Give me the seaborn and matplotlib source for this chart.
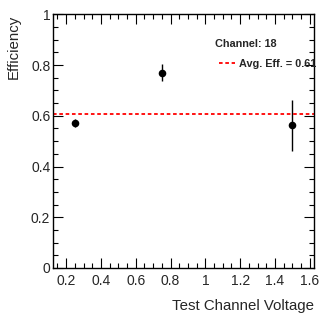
import numpy as np
import matplotlib
matplotlib.use("Agg")
import matplotlib.pyplot as plt
from matplotlib.ticker import MultipleLocator
import seaborn as sns
import pandas as pd

# data
voltage = [0.25, 0.75, 1.5]
efficiency = [0.572, 0.770, 0.562]
eff_err = [0.016, 0.034, 0.100]
avg_eff = 0.606
channel = 18

sns.set_style("ticks")
plt.rcParams['font.family'] = ['Liberation Sans', 'DejaVu Sans']

df = pd.DataFrame({'v': voltage, 'eff': efficiency, 'err': eff_err})

fig = plt.figure(figsize=(3.32, 3.19), dpi=100)
ax = fig.add_axes([0.16, 0.16, 0.786, 0.795])

ax.errorbar(df['v'], df['eff'], yerr=df['err'], fmt='none',
            ecolor='black', elinewidth=1.0, capsize=0)
sns.scatterplot(data=df, x='v', y='eff', ax=ax, color='black',
                s=30, edgecolor='black', linewidth=0, zorder=3)

ax.axhline(avg_eff, color='red', ls=(0, (2, 1.5)), lw=1.3,
           label='Avg. Eff. = %.2f' % 0.61)

ax.set_xlim(0.125, 1.625)
ax.set_ylim(0, 1)
ax.xaxis.set_major_locator(MultipleLocator(0.2))
ax.xaxis.set_minor_locator(MultipleLocator(0.05))
ax.yaxis.set_major_locator(MultipleLocator(0.2))
ax.yaxis.set_minor_locator(MultipleLocator(0.05))

def fmt(x, pos):
    return '%g' % round(x, 2)

ax.xaxis.set_major_formatter(plt.FuncFormatter(fmt))
ax.yaxis.set_major_formatter(plt.FuncFormatter(fmt))

ax.tick_params(which='both', direction='in', top=True, right=True,
               labelsize=10, color='black')
ax.tick_params(which='major', length=7, width=0.8)
ax.tick_params(which='minor', length=3.5, width=0.8)
ax.tick_params(axis='x', pad=4)
ax.tick_params(axis='y', pad=2)
for s in ax.spines.values():
    s.set_visible(True)
    s.set_color('black')
    s.set_linewidth(1.0)

ax.set_xlabel('Test Channel Voltage', fontsize=10.8, ha='right', x=1.0, labelpad=8)
ax.set_ylabel('Efficiency', fontsize=10.8, ha='right', y=1.0, labelpad=7)

ax.text(0.62, 0.885, 'Channel: %d' % channel, transform=ax.transAxes,
        fontsize=7.8, fontweight='bold', va='center')
leg = ax.legend(loc='center left', bbox_to_anchor=(0.6, 0.805), frameon=False,
                handlelength=1.4, handletextpad=0.4,
                prop={'size': 7.8, 'weight': 'bold'})

fig.savefig('out.png', dpi=100)
